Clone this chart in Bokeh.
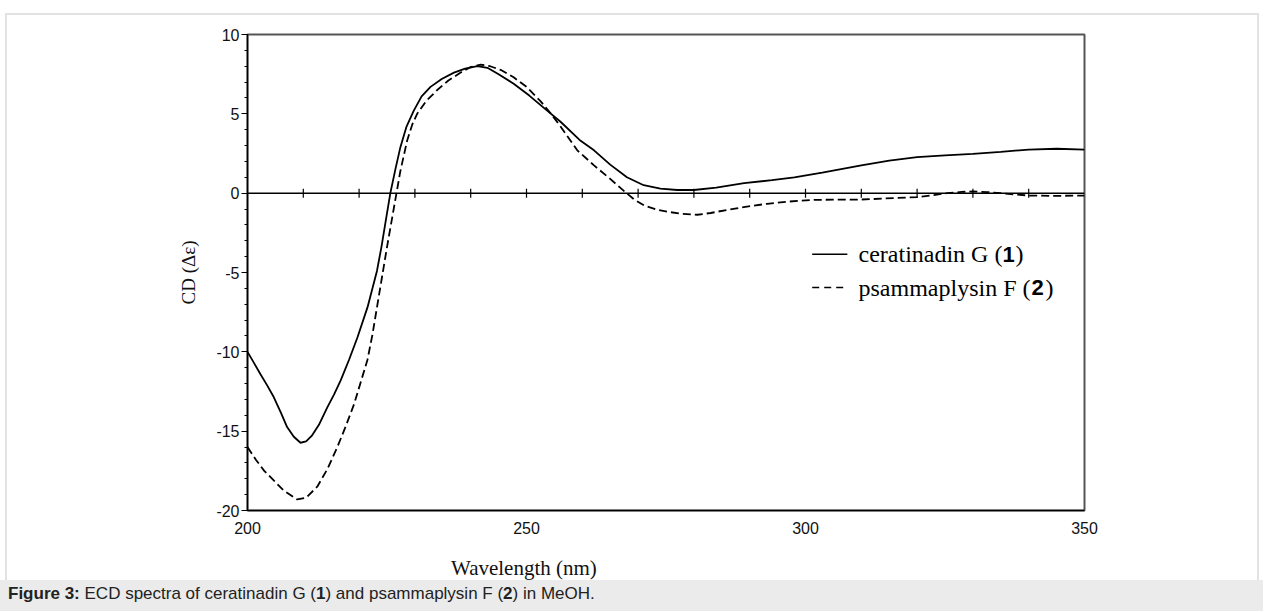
from bokeh.plotting import figure
from bokeh.models import Range1d, FixedTicker, Span, Div, CustomJSTickFormatter
from bokeh.layouts import column
from bokeh.core.properties import value
from bokeh.embed import file_html
from bokeh.resources import INLINE
import numpy as np

# ---- data ----
wl_ceratinadin = [200, 201, 202.3, 203.5, 204.7, 206, 207.1, 208.3, 209.5, 210.5, 211.5, 212.8,
                  214.3, 215.5, 216.7, 218.2, 219.7, 221.5, 223.2, 224.0, 224.7, 225.6, 226.5,
                  227.4, 228.5, 229.8, 231.2, 232.8, 234.8, 237.0, 239.0, 241.2, 243, 245,
                  247.7, 250.5, 253.7, 256.1, 259.7, 262.1, 265, 268, 271, 274, 277, 280, 284,
                  289, 294, 298, 303, 310, 315, 320, 325, 330, 335, 340, 345, 350]
cd_ceratinadin = [-10.0, -10.6, -11.4, -12.1, -12.85, -13.85, -14.74, -15.35, -15.73, -15.65, -15.3, -14.6,
                  -13.5, -12.7, -11.8, -10.5, -9.1, -7.2, -4.9, -3.4, -1.9, 0.0, 1.5,
                  2.9, 4.2, 5.2, 6.1, 6.7, 7.2, 7.6, 7.85, 8.0, 7.9, 7.5,
                  6.9, 6.15, 5.2, 4.5, 3.3, 2.7, 1.8, 1.0, 0.5, 0.28, 0.2, 0.2, 0.35,
                  0.63, 0.82, 1.0, 1.3, 1.75, 2.05, 2.27, 2.38, 2.48, 2.6, 2.75, 2.8, 2.75]

wl_psammaplysin = [200, 201.5, 203, 204.7, 206.5, 208.9, 210.5, 212.5, 214.3, 216.1, 217.6, 219.1,
                   220.3, 221.5, 222.4, 223.2, 224.1, 225.0, 225.9, 226.7, 227.4, 228.6, 229.5,
                   230.4, 232, 234.0, 236, 238.2, 240, 241.8, 243.5, 245.5, 247.7, 250, 252.5,
                   254.3, 256.1, 259.1, 262.1, 265, 267.5, 269.3, 271.1, 273.5, 275.8, 278, 280.6,
                   283, 286.0, 289.5, 293.1, 297, 301.5, 310, 320, 323, 325.4, 328, 330, 332.5,
                   335, 337.5, 340, 345, 350]
cd_psammaplysin = [-16.0, -16.8, -17.5, -18.1, -18.75, -19.3, -19.2, -18.5, -17.4, -16.0, -14.7, -13.3,
                   -11.9, -10.5, -8.9, -7.2, -5.3, -3.4, -1.6, 0.0, 1.4, 3.3, 4.3,
                   5.0, 5.8, 6.5, 7.1, 7.6, 7.95, 8.1, 8.0, 7.75, 7.3, 6.7, 5.8,
                   5.05, 4.2, 2.7, 1.75, 0.9, 0.13, -0.4, -0.78, -1.05, -1.2, -1.3, -1.36,
                   -1.25, -1.05, -0.85, -0.67, -0.53, -0.42, -0.4, -0.25, -0.12, 0.0, 0.08, 0.11, 0.07,
                   0.0, -0.08, -0.15, -0.17, -0.15]

x_tick_labels = [200, 250, 300, 350]
zero_line_ticks = [210, 220, 230, 240, 250, 260, 270, 280, 290, 300, 310, 320, 330, 340]
y_major_ticks = [-20, -15, -10, -5, 0, 5, 10]
y_minor_ticks = list(range(-20, 11))

series_names = ["ceratinadin G (", "psammaplysin F ("]
series_numbers = ["1", "2"]

# ---- figure ----
W = 1263
H = 545
p = figure(width=W, height=H, x_range=Range1d(200, 350), y_range=Range1d(-20, 10),
           output_backend="svg", toolbar_location=None,
           min_border_left=247, min_border_right=W - 1084, min_border_top=34,
           min_border_bottom=H - 510)
p.grid.visible = False
p.background_fill_color = "white"
p.border_fill_alpha = 0
p.outline_line_color = "#555555"
p.outline_line_width = 2

# x axis (bottom): labels only
xa = p.xaxis[0]
xa.ticker = FixedTicker(ticks=x_tick_labels)
xa.formatter = CustomJSTickFormatter(code="return tick.toFixed(0);")
xa.major_tick_out = 0
xa.major_tick_in = 0
xa.minor_tick_out = 0
xa.minor_tick_in = 0
xa.axis_line_color = "black"
xa.axis_line_width = 1.5
xa.major_label_standoff = 11
xa.major_label_text_font = "Liberation Sans"
xa.major_label_text_font_size = "16px"
xa.major_label_text_color = "#111111"

# y axis
ya = p.yaxis[0]
ya.ticker = FixedTicker(ticks=y_major_ticks, minor_ticks=y_minor_ticks)
ya.formatter = CustomJSTickFormatter(code="return tick.toFixed(0);")
ya.major_tick_out = 6
ya.major_tick_in = 0
ya.minor_tick_out = 3
ya.minor_tick_in = 0
ya.axis_line_color = "black"
ya.axis_line_width = 1.5
ya.major_tick_line_color = "black"
ya.minor_tick_line_color = "black"
ya.major_label_standoff = 2
ya.major_label_text_font = "Liberation Sans"
ya.major_label_text_font_size = "16px"
ya.major_label_text_color = "#111111"
ya.axis_label = "CD (Δε)"
ya.axis_label_text_font = "Liberation Serif"
ya.axis_label_text_font_style = "normal"
ya.axis_label_text_font_size = "19px"
ya.axis_label_text_color = "#111111"
ya.axis_label_standoff = 14

# zero line with crossing tick marks
p.add_layout(Span(location=0, dimension="width", line_color="black", line_width=1.5))
p.scatter(x=zero_line_ticks, y=[0] * len(zero_line_ticks), marker="dash", size=9,
          angle=np.pi / 2, line_color="black", line_width=1.2)

# curves
p.line(wl_ceratinadin, cd_ceratinadin, line_color="black", line_width=1.8)
p.line(wl_psammaplysin, cd_psammaplysin, line_color="black", line_width=1.8, line_dash="8 4")

# hand-made legend
leg_y = [-3.85, -5.95]
dashes = ["solid", "7 5"]
for i in range(2):
    p.line([301.2, 307.5], [leg_y[i], leg_y[i]], line_color="black", line_width=1.5,
           line_dash=dashes[i])
p.text(x=[309.5, 309.5], y=leg_y, text=series_names, text_font=value("Liberation Serif"),
       text_font_size="24px", text_baseline="middle", text_color="black")
p.text(x=[309.5, 309.5], y=leg_y, text=series_numbers, x_offset=[144, 173],
       text_font=value("Liberation Sans"), text_font_style="bold",
       text_font_size="22px", text_baseline="middle", text_color="black")
p.text(x=[309.5, 309.5], y=leg_y, text=[")", ")"], x_offset=[157, 187],
       text_font=value("Liberation Serif"), text_font_size="24px",
       text_baseline="middle", text_color="black")

# x axis title (sits under x = 250, as in the reference)
x_title = Div(
    text=('<div style="font-family: \'Liberation Serif\', \'Times New Roman\', serif; '
          'font-size: 21px; color:#111; padding: 8px 0 0 451px; white-space: nowrap;">'
          'Wavelength (nm)</div>'),
    width=W, height=35, margin=0)

caption = Div(
    text=('<div style="font-family: \'Liberation Sans\', Arial, sans-serif; font-size: 17px; '
          'color:#222; padding: 2px 0 0 8px; white-space: nowrap;">'
          '<b>Figure 3:</b> ECD spectra of ceratinadin G (<b>1</b>) and psammaplysin F (<b>2</b>) in MeOH.'
          '</div>'),
    width=W, height=31, margin=0,
    styles={"background-color": "#ebebeb"})

frame_lines = ("linear-gradient(#e2e2e2,#e2e2e2) 6px 13px / 1253px 2px no-repeat, "
               "linear-gradient(#e2e2e2,#e2e2e2) 5px 13px / 2px 600px no-repeat, "
               "linear-gradient(#e2e2e2,#e2e2e2) 1257px 13px / 2px 600px no-repeat")
layout = column(p, x_title, caption, spacing=0, styles={"background": frame_lines})
open("out.html", "w").write(file_html(layout, INLINE))
